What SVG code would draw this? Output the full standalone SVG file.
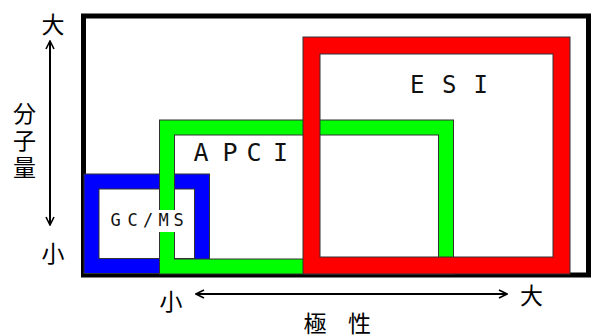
<svg xmlns="http://www.w3.org/2000/svg" width="591" height="336" viewBox="0 0 591 336">
<style>
.cjk{font-family:"Noto Sans CJK JP","Noto Sans CJK SC",sans-serif;font-size:23px;fill:#000;text-anchor:middle}
.lbl{font-family:"DejaVu Sans Mono","Liberation Mono",monospace;fill:#111}
.edge{fill:none;stroke:#333;stroke-width:1}
.ax{fill:none;stroke:#000;stroke-width:2}
</style>
<defs>
<marker id="ah" viewBox="0 0 10 10" refX="9" refY="5" markerWidth="10" markerHeight="10" markerUnits="userSpaceOnUse" orient="auto-start-reverse">
<path d="M1,1 L9,5 L1,9" fill="none" stroke="#000" stroke-width="1.6"/>
</marker>
</defs>
<rect width="591" height="336" fill="#fff"/>
<g id="frame">
<rect x="83.5" y="16" width="505" height="259" fill="none" stroke="#000" stroke-width="5"/>
</g>
<g id="gcms">
<rect x="91.5" y="181.5" width="110.5" height="84.5" fill="none" stroke="#0000ff" stroke-width="15"/>
<rect x="84" y="174" width="125.5" height="99.5" class="edge"/>
<rect x="99" y="189" width="95.5" height="69.5" class="edge"/>
</g>
<g id="apci">
<rect x="167" y="127.5" width="279" height="139" fill="none" stroke="#00ff00" stroke-width="15"/>
<rect x="159.5" y="120" width="294" height="154" class="edge"/>
<rect x="174.5" y="135" width="264" height="124" class="edge"/>
<text class="lbl" font-size="25" y="161"><tspan x="193.5">A</tspan><tspan x="222.5">P</tspan><tspan x="246.5">C</tspan><tspan x="273">I</tspan></text>
</g>
<g id="esi">
<rect x="311.5" y="45.5" width="250" height="220" fill="none" stroke="#ff0000" stroke-width="17"/>
<rect x="303" y="37" width="267" height="237" class="edge"/>
<rect x="320" y="54" width="233" height="203" class="edge"/>
<text class="lbl" font-size="24" y="93"><tspan x="410">E</tspan><tspan x="442">S</tspan><tspan x="473.5">I</tspan></text>
</g>
<g id="gcms-label">
<rect x="158" y="210" width="18" height="22" fill="#fff"/>
<text class="lbl" font-size="17" y="226"><tspan x="110.5">G</tspan><tspan x="127.5">C</tspan><tspan x="143">/</tspan><tspan x="158.5">M</tspan><tspan x="173.5">S</tspan></text>
</g>
<g id="connectors">
<line class="ax" x1="50" y1="41" x2="50" y2="225" marker-start="url(#ah)" marker-end="url(#ah)"/>
<line class="ax" x1="196" y1="294" x2="507" y2="294" marker-start="url(#ah)" marker-end="url(#ah)"/>
</g>
<g id="axis-labels">
<text class="cjk" x="53" y="33">大</text>
<text class="cjk" x="53" y="262">小</text>
<text class="cjk" x="24.5" y="122">分</text>
<text class="cjk" x="24.5" y="149">子</text>
<text class="cjk" x="24.5" y="176">量</text>
<text class="cjk" x="171" y="310">小</text>
<text class="cjk" x="531.5" y="304">大</text>
<text class="cjk" x="315" y="332">極</text>
<text class="cjk" x="359.5" y="332">性</text>
</g>
</svg>
